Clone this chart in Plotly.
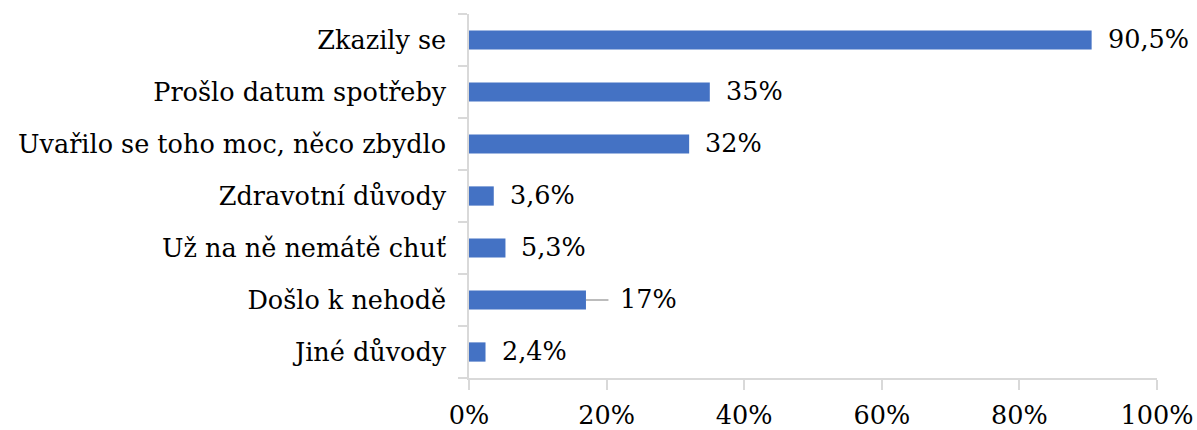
import plotly.graph_objects as go

categories = [
    "Zkazily se",
    "Prošlo datum spotřeby",
    "Uvařilo se toho moc, něco zbydlo",
    "Zdravotní důvody",
    "Už na ně nemátě chuť",
    "Došlo k nehodě",
    "Jiné důvody",
]
values = [90.5, 35, 32, 3.6, 5.3, 17, 2.4]
value_labels = ["90,5%", "35%", "32%", "3,6%", "5,3%", "17%", "2,4%"]
tick_values = [0, 20, 40, 60, 80, 100]
tick_labels = ["0%", "20%", "40%", "60%", "80%", "100%"]

FONT = "DejaVu Serif"
FONT_SIZE = 25.5
AXIS_GREY = "#D9D9D9"

fig = go.Figure(
    go.Bar(
        x=values,
        y=categories,
        orientation="h",
        marker=dict(color="#4472C4", line=dict(width=0)),
        width=0.37,
        hoverinfo="skip",
    )
)

# value labels beside each bar; the one for "Došlo k nehodě" sits further out with a leader line
for cat, val, lab in zip(categories, values, value_labels):
    moved = cat == "Došlo k nehodě"
    fig.add_annotation(
        x=val, y=cat, text=lab, showarrow=False,
        xanchor="left", yanchor="middle",
        xshift=32 if moved else 14, yshift=1,
        font=dict(family=FONT, size=FONT_SIZE, color="#000000"),
    )
    if moved:
        fig.add_annotation(
            x=val, y=cat, ax=24, ay=0, axref="pixel", ayref="pixel",
            text="", showarrow=True, arrowhead=0, arrowwidth=1.5,
            arrowcolor="#A6A6A6", standoff=0, startstandoff=0,
        )

fig.update_layout(
    width=1197, height=430,
    margin=dict(l=469, r=40, t=14, b=52, autoexpand=False),
    paper_bgcolor="white", plot_bgcolor="white",
    showlegend=False,
    font=dict(family=FONT, size=FONT_SIZE, color="#000000"),
    bargap=0.63,
)
fig.update_xaxes(
    range=[0, 100], tickvals=tick_values, ticktext=tick_labels,
    showgrid=False, zeroline=False, automargin=False,
    showline=True, linecolor=AXIS_GREY, linewidth=1.5,
    ticks="outside", ticklen=10, tickcolor=AXIS_GREY, tickwidth=1.5,
    tickfont=dict(family=FONT, size=FONT_SIZE, color="#000000"),
    ticklabelstandoff=4,
)
fig.update_yaxes(
    categoryorder="array", categoryarray=categories[::-1],
    showgrid=False, zeroline=False, automargin=False,
    showline=True, linecolor=AXIS_GREY, linewidth=1.5,
    ticks="outside", ticklen=9, tickcolor=AXIS_GREY, tickwidth=1.5,
    tickson="boundaries",
    tickfont=dict(family=FONT, size=FONT_SIZE, color="#000000"),
    ticklabelstandoff=16,
)

fig.write_html("out.html")
